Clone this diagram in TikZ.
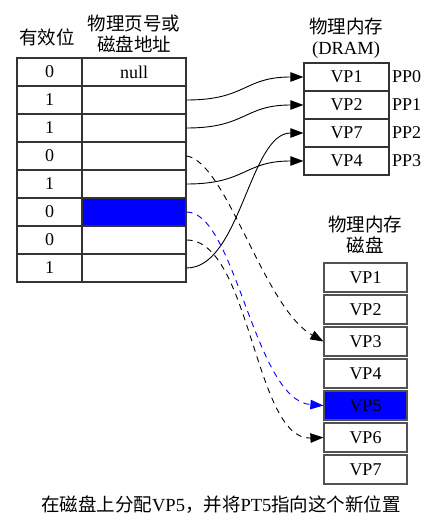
\documentclass[tikz,border=0pt]{standalone}
\usepackage{fontspec}
\setmainfont{Liberation Serif}
\newfontfamily\cjk{Noto Sans CJK SC}
\usetikzlibrary{arrows.meta}
\definecolor{bdr}{HTML}{333333}
\definecolor{vpblue}{HTML}{0000FF}
\begin{document}
\begin{tikzpicture}[x=1pt,y=-1pt,
  lat/.style={font=\fontsize{18}{20}\selectfont},
  ttl/.style={font=\fontsize{18.5}{21}\selectfont\cjk, align=center, inner sep=0},
  vcell/.style={draw=bdr, line width=1.2pt, minimum width=65pt, minimum height=28pt, inner sep=0, lat},
  pcell/.style={draw=bdr, line width=1.2pt, minimum width=104pt, minimum height=28pt, inner sep=0, lat},
  dcell/.style={draw=bdr, line width=1.2pt, minimum width=85pt, minimum height=28pt, inner sep=0, lat},
  kcell/.style={draw=bdr!85!white, line width=1.2pt, minimum width=83pt, minimum height=29pt, inner sep=0, lat},
  conn/.style={line width=0.9pt, -{Triangle[length=13pt,width=9.5pt]}},
  dsh/.style={conn, dash pattern=on 6pt off 5pt}
]
\useasboundingbox (0,0) rectangle (443,529);
% headers
\node[ttl] (hv) at (47,37) {有效位};
\node[ttl] (hp) at (134,34) {物理页号或\\磁盘地址};
\node[ttl] (hd) at (346,38) {物理内存\\{\rmfamily (DRAM)}};
\node[ttl] (hk) at (365,235) {物理内存\\磁盘};
% page table
\foreach \i/\v in {0/0,1/1,2/1,3/0,4/1,5/0,6/0,7/1}{
  \node[vcell] (v\i) at (49.5,{72+28*\i}) {\v};
}
\foreach \i in {0,...,7}{
  \node[pcell] (p\i) at (134,{72+28*\i}) {};
}
\node[lat] at (p0) {null};
\node[pcell, fill=vpblue] (p5b) at (p5) {};
% DRAM
\foreach \k/\t in {0/VP1,1/VP2,2/VP7,3/VP4}{
  \node[dcell] (d\k) at (346.5,{77+28*\k}) {\t};
  \node[lat, anchor=west, inner sep=0] (pp\k) at (392,{77+28*\k}) {PP\k};
}
% disk
\foreach \k in {1,...,7}{
  \node[kcell] (k\k) at (365.5,{277.5+32*(\k-1)}) {VP\k};
}
\node[kcell, fill=vpblue] (k5b) at (k5) {VP5};
% caption
\node[font=\fontsize{18.5}{20}\selectfont, inner sep=0] (cap) at (221,505) {{\cjk 在磁盘上分配}VP5{\cjk ，并将}PT5{\cjk 指向这个新位置}};
% connectors
\draw[conn] (p1.east) .. controls +(60,0) and +(-60,0) .. (d0.west);
\draw[conn] (p2.east) .. controls +(60,0) and +(-60,0) .. (d1.west);
\draw[conn] (p4.east) .. controls +(60,0) and +(-60,0) .. (d3.west);
\draw[conn] (p7.east) .. controls +(54,0) and +(-54,0) .. (d2.west);
\draw[dsh] (p3.east) .. controls +(40,6) and +(-60,-34) .. (k3.west);
\draw[dsh, vpblue] (p5.east) .. controls +(49,0) and +(-69,-5) .. (k5.west);
\draw[dsh] (p6.east) .. controls +(64,0) and +(-69,3) .. (k6.west);
\end{tikzpicture}
\end{document}
